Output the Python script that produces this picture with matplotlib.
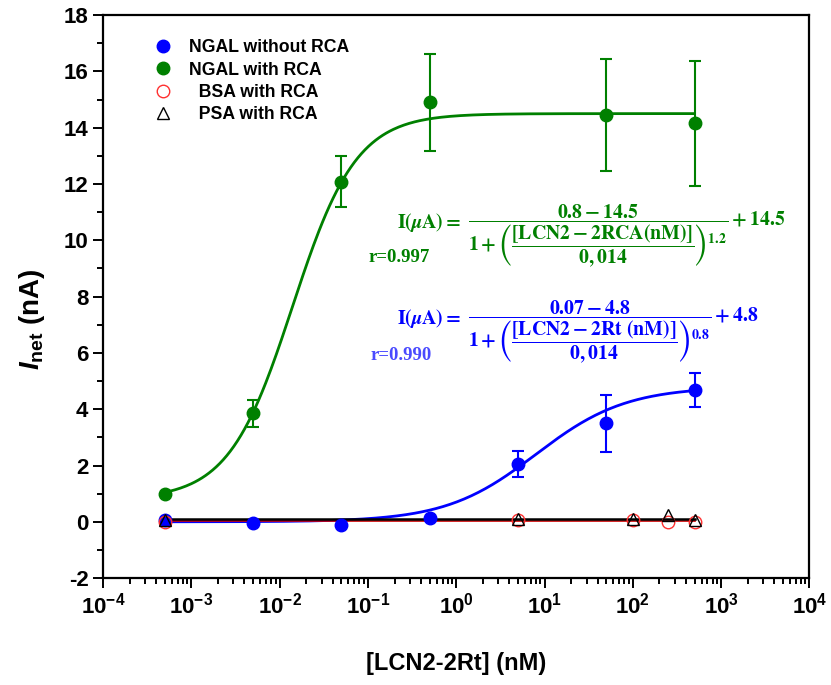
import numpy as np
import matplotlib
matplotlib.use("Agg")
import matplotlib.pyplot as plt
from matplotlib.lines import Line2D

plt.rcParams['font.family'] = ['Liberation Sans', 'DejaVu Sans']
plt.rcParams['font.weight'] = 'bold'
plt.rcParams['axes.labelweight'] = 'bold'
plt.rcParams['axes.unicode_minus'] = False
plt.rcParams['mathtext.fontset'] = 'custom'
plt.rcParams['mathtext.it'] = 'Liberation Sans:bold:italic'
plt.rcParams['mathtext.rm'] = 'Liberation Sans:bold'
plt.rcParams['mathtext.bf'] = 'Liberation Sans:bold'

# data
conc = [5e-4, 5e-3, 5e-2, 0.5, 5, 50, 500]
ngal_without = [0.05, -0.05, -0.1, 0.12, 2.05, 3.5, 4.68]
ngal_without_err = [0, 0, 0, 0, 0.45, 1.02, 0.6]

conc_rca = [5e-4, 5e-3, 5e-2, 0.5, 50, 500]
ngal_with = [1.0, 3.85, 12.08, 14.9, 14.45, 14.15]
ngal_with_err = [0, 0.48, 0.9, 1.72, 2.0, 2.22]

conc_ctrl = [5e-4, 5, 100, 250, 500]
bsa = [0.0, 0.05, 0.05, 0.0, 0.0]
psa = [0.05, 0.1, 0.1, 0.25, 0.08]

# logistic fit parameters (A1, A2, x0, p)
fit_green = (0.8, 14.5, 0.014, 1.2)
fit_blue = (0.0, 4.8, 8.0, 0.85)


def logistic(x, a1, a2, x0, p):
    return a2 + (a1 - a2) / (1 + (x / x0) ** p)


fig = plt.figure(figsize=(8.31, 6.85), dpi=100)
ax = fig.add_axes([0.124, 0.156, 0.85, 0.822])

xs = np.logspace(np.log10(5e-4), np.log10(500), 300)
ax.plot(xs, logistic(xs, *fit_green), color='#008000', lw=2)
ax.plot(xs, logistic(xs, *fit_blue), color='#0000ff', lw=2)
ax.plot([conc_ctrl[0], conc_ctrl[-1]], [np.mean(bsa)] * 2, color='#cc0000', lw=1.2)
ax.plot([conc_ctrl[0], conc_ctrl[-1]], [np.mean(psa)] * 2, color='black', lw=1.8)

ax.errorbar(conc, ngal_without, yerr=ngal_without_err, fmt='o', color='#0000ff',
            ms=9, capsize=4, elinewidth=1.5, capthick=1.5, zorder=3)
ax.errorbar(conc_rca, ngal_with, yerr=ngal_with_err, fmt='o', color='#008000',
            ms=9, capsize=4, elinewidth=1.5, capthick=1.5, zorder=3)
ax.plot(conc_ctrl, bsa, 'o', mfc='none', mec='#ff3030', ms=9, mew=1, zorder=4)
ax.plot(conc_ctrl, psa, '^', mfc='none', mec='black', ms=9, mew=1, zorder=4)

handles = [
    Line2D([], [], ls='none', marker='o', color='#0000ff', ms=9),
    Line2D([], [], ls='none', marker='o', color='#008000', ms=9),
    Line2D([], [], ls='none', marker='o', mfc='none', mec='#ff3030', ms=9),
    Line2D([], [], ls='none', marker='^', mfc='none', mec='black', ms=9),
]
labels = ['NGAL without RCA', 'NGAL with RCA', '  BSA with RCA', '  PSA with RCA']
ax.legend(handles, labels, loc='upper left', bbox_to_anchor=(0.072, 0.957), frameon=False,
          fontsize=12.7, handletextpad=1.0, labelspacing=0.3, borderaxespad=0,
          borderpad=0, handlelength=1.0)

ax.set_xscale('log')
ax.set_xlim(1e-4, 1e4)
ax.set_ylim(-2, 18)
ax.set_yticks(range(-2, 19, 2))
ax.set_yticks(range(-1, 18, 2), minor=True)

for s in ax.spines.values():
    s.set_linewidth(1.6)
ax.tick_params(which='both', direction='out', width=1.4, labelsize=16, top=False, right=False)
ax.tick_params(which='major', length=7)
ax.tick_params(which='minor', length=4)

ax.set_xlabel('[LCN2-2Rt] (nM)', fontsize=17, labelpad=24)
ax.set_ylabel(r'$\mathit{I}_{\mathdefault{net}}$ (nA)', fontsize=20)
ax.yaxis.set_label_coords(-0.08, 0.46)

# equations: left-hand side and fraction drawn as separate texts
lhs = r'$\mathbf{I}(\mu \mathbf{A}) =$'
rhs_green = (r'$\dfrac{\mathbf{0.8-14.5}}'
             r'{\mathbf{1}+\left(\dfrac{\mathbf{[LCN2-2RCA(nM)]}}{\mathbf{0,014}}\right)^{\mathbf{1.2}}}'
             r'+\mathbf{14.5}$')
rhs_blue = (r'$\dfrac{\mathbf{0.07-4.8}}'
            r'{\mathbf{1}+\left(\dfrac{\mathbf{[LCN2-2Rt\ (nM)]}}{\mathbf{0,014}}\right)^{\mathbf{0.8}}}'
            r'+\mathbf{4.8}$')
for y_lhs, y_rhs, rhs, col in [(222, 236, rhs_green, '#008000'), (318, 332, rhs_blue, '#0000ff')]:
    fig.text(397 / 831, 1 - y_lhs / 685, lhs, color=col, fontsize=14.2,
             va='center', ha='left', math_fontfamily='stix')
    fig.text(468 / 831, 1 - y_rhs / 685, rhs, color=col, fontsize=14.2,
             va='center', ha='left', math_fontfamily='stix')

fig.text(368 / 831, 1 - 258 / 685, 'r=0.997', color='#008000', fontsize=13.5,
         va='center', ha='left', family='Liberation Serif', weight='bold')
fig.text(370 / 831, 1 - 356 / 685, 'r=0.990', color='#4a4aff', fontsize=13.5,
         va='center', ha='left', family='Liberation Serif', weight='bold')

fig.savefig('out.png', dpi=100)
